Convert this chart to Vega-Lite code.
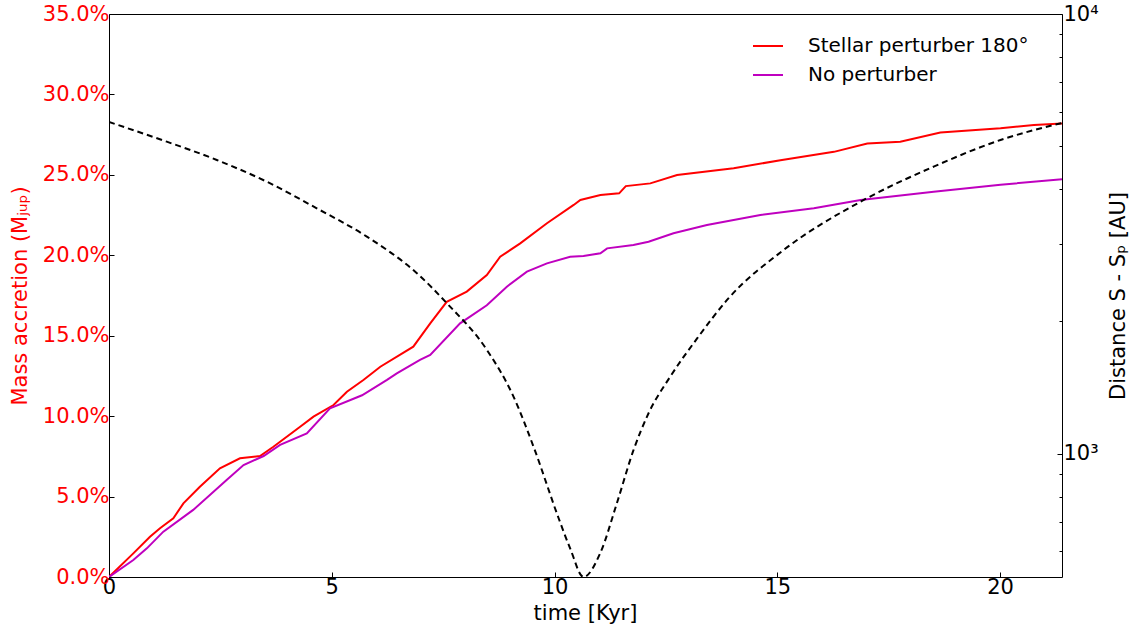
{
  "$schema": "https://vega.github.io/schema/vega-lite/v6.json",
  "width": 953,
  "height": 563,
  "autosize": {"type": "none"},
  "padding": {"left": 109, "top": 14, "right": 74, "bottom": 57},
  "background": "white",
  "config": {
    "font": "DejaVu Sans",
    "view": {"stroke": "black", "strokeWidth": 1},
    "axis": {"grid": false, "domain": false, "tickColor": "black", "labelFont": "DejaVu Sans", "titleFont": "DejaVu Sans", "labelFontSize": 21, "titleFontSize": 21, "titleFontWeight": "normal", "labelOverlap": false}
  },
  "datasets": {
    "acc": [
      {"t": 0, "pct": 0, "series": "Stellar perturber 180°"},
      {"t": 0.546, "pct": 1.47, "series": "Stellar perturber 180°"},
      {"t": 0.92, "pct": 2.5, "series": "Stellar perturber 180°"},
      {"t": 1.145, "pct": 3.03, "series": "Stellar perturber 180°"},
      {"t": 1.444, "pct": 3.65, "series": "Stellar perturber 180°"},
      {"t": 1.67, "pct": 4.58, "series": "Stellar perturber 180°"},
      {"t": 2.04, "pct": 5.61, "series": "Stellar perturber 180°"},
      {"t": 2.49, "pct": 6.76, "series": "Stellar perturber 180°"},
      {"t": 2.94, "pct": 7.38, "series": "Stellar perturber 180°"},
      {"t": 3.39, "pct": 7.52, "series": "Stellar perturber 180°"},
      {"t": 3.69, "pct": 8.1, "series": "Stellar perturber 180°"},
      {"t": 3.84, "pct": 8.41, "series": "Stellar perturber 180°"},
      {"t": 4.29, "pct": 9.34, "series": "Stellar perturber 180°"},
      {"t": 4.59, "pct": 9.97, "series": "Stellar perturber 180°"},
      {"t": 5.04, "pct": 10.69, "series": "Stellar perturber 180°"},
      {"t": 5.34, "pct": 11.52, "series": "Stellar perturber 180°"},
      {"t": 5.71, "pct": 12.25, "series": "Stellar perturber 180°"},
      {"t": 6.09, "pct": 13.07, "series": "Stellar perturber 180°"},
      {"t": 6.83, "pct": 14.32, "series": "Stellar perturber 180°"},
      {"t": 7.21, "pct": 15.77, "series": "Stellar perturber 180°"},
      {"t": 7.58, "pct": 17.11, "series": "Stellar perturber 180°"},
      {"t": 8.03, "pct": 17.74, "series": "Stellar perturber 180°"},
      {"t": 8.48, "pct": 18.77, "series": "Stellar perturber 180°"},
      {"t": 8.78, "pct": 19.91, "series": "Stellar perturber 180°"},
      {"t": 9.23, "pct": 20.74, "series": "Stellar perturber 180°"},
      {"t": 9.83, "pct": 21.99, "series": "Stellar perturber 180°"},
      {"t": 10.43, "pct": 23.13, "series": "Stellar perturber 180°"},
      {"t": 10.58, "pct": 23.44, "series": "Stellar perturber 180°"},
      {"t": 11.03, "pct": 23.75, "series": "Stellar perturber 180°"},
      {"t": 11.45, "pct": 23.85, "series": "Stellar perturber 180°"},
      {"t": 11.6, "pct": 24.3, "series": "Stellar perturber 180°"},
      {"t": 12.15, "pct": 24.47, "series": "Stellar perturber 180°"},
      {"t": 12.75, "pct": 24.99, "series": "Stellar perturber 180°"},
      {"t": 14.02, "pct": 25.41, "series": "Stellar perturber 180°"},
      {"t": 15.07, "pct": 25.91, "series": "Stellar perturber 180°"},
      {"t": 16.27, "pct": 26.43, "series": "Stellar perturber 180°"},
      {"t": 17.02, "pct": 26.95, "series": "Stellar perturber 180°"},
      {"t": 17.76, "pct": 27.06, "series": "Stellar perturber 180°"},
      {"t": 18.66, "pct": 27.63, "series": "Stellar perturber 180°"},
      {"t": 20.01, "pct": 27.89, "series": "Stellar perturber 180°"},
      {"t": 20.76, "pct": 28.1, "series": "Stellar perturber 180°"},
      {"t": 21.39, "pct": 28.2, "series": "Stellar perturber 180°"},
      {"t": 0, "pct": 0, "series": "No perturber"},
      {"t": 0.546, "pct": 1.06, "series": "No perturber"},
      {"t": 0.85, "pct": 1.78, "series": "No perturber"},
      {"t": 1.22, "pct": 2.82, "series": "No perturber"},
      {"t": 1.89, "pct": 4.17, "series": "No perturber"},
      {"t": 2.64, "pct": 6.03, "series": "No perturber"},
      {"t": 3.02, "pct": 6.96, "series": "No perturber"},
      {"t": 3.47, "pct": 7.52, "series": "No perturber"},
      {"t": 3.84, "pct": 8.21, "series": "No perturber"},
      {"t": 4.44, "pct": 8.93, "series": "No perturber"},
      {"t": 4.96, "pct": 10.49, "series": "No perturber"},
      {"t": 5.68, "pct": 11.3, "series": "No perturber"},
      {"t": 6.24, "pct": 12.25, "series": "No perturber"},
      {"t": 6.46, "pct": 12.66, "series": "No perturber"},
      {"t": 6.98, "pct": 13.5, "series": "No perturber"},
      {"t": 7.21, "pct": 13.8, "series": "No perturber"},
      {"t": 7.88, "pct": 15.77, "series": "No perturber"},
      {"t": 8.48, "pct": 16.89, "series": "No perturber"},
      {"t": 8.93, "pct": 18.05, "series": "No perturber"},
      {"t": 9.38, "pct": 18.98, "series": "No perturber"},
      {"t": 9.83, "pct": 19.5, "series": "No perturber"},
      {"t": 10.35, "pct": 19.91, "series": "No perturber"},
      {"t": 10.65, "pct": 19.95, "series": "No perturber"},
      {"t": 11.03, "pct": 20.12, "series": "No perturber"},
      {"t": 11.18, "pct": 20.43, "series": "No perturber"},
      {"t": 11.77, "pct": 20.64, "series": "No perturber"},
      {"t": 12.11, "pct": 20.84, "series": "No perturber"},
      {"t": 12.67, "pct": 21.37, "series": "No perturber"},
      {"t": 13.42, "pct": 21.88, "series": "No perturber"},
      {"t": 14.62, "pct": 22.5, "series": "No perturber"},
      {"t": 15.82, "pct": 22.92, "series": "No perturber"},
      {"t": 16.87, "pct": 23.44, "series": "No perturber"},
      {"t": 18.51, "pct": 23.95, "series": "No perturber"},
      {"t": 20.01, "pct": 24.39, "series": "No perturber"},
      {"t": 21.39, "pct": 24.72, "series": "No perturber"}
    ],
    "dist": [
      {"t": 0, "d": 5682},
      {"t": 1.296, "d": 5126},
      {"t": 2.419, "d": 4658},
      {"t": 3.541, "d": 4157},
      {"t": 4.664, "d": 3616},
      {"t": 5.787, "d": 3118},
      {"t": 6.91, "d": 2575},
      {"t": 7.584, "d": 2200},
      {"t": 8.482, "d": 1723},
      {"t": 9.079, "d": 1350},
      {"t": 9.528, "d": 1039},
      {"t": 10.09, "d": 715},
      {"t": 10.35, "d": 610},
      {"t": 10.65, "d": 525},
      {"t": 11.026, "d": 595},
      {"t": 11.4, "d": 773},
      {"t": 11.774, "d": 1021},
      {"t": 12.11, "d": 1237},
      {"t": 12.6, "d": 1500},
      {"t": 13.2, "d": 1830},
      {"t": 13.907, "d": 2259},
      {"t": 15.143, "d": 2908},
      {"t": 16.94, "d": 3778},
      {"t": 18.51, "d": 4498},
      {"t": 20.01, "d": 5171},
      {"t": 21.39, "d": 5653}
    ]
  },
  "layer": [
    {
      "data": {"name": "acc"},
      "mark": {"type": "line", "strokeWidth": 2, "clip": true},
      "encoding": {
        "x": {"field": "t", "type": "quantitative", "scale": {"domain": [0, 21.39], "nice": false},
          "axis": {"values": [0, 5, 10, 15, 20], "title": "time [Kyr]", "titleX": 476, "titleY": 36, "titleBaseline": "middle", "titleAlign": "center", "tickSize": -5, "labelPadding": 4, "labelFlush": false, "labelColor": "black", "titleColor": "black"}},
        "y": {"field": "pct", "type": "quantitative", "scale": {"domain": [0, 35], "nice": false},
          "axis": {"orient": "left", "values": [0, 5, 10, 15, 20, 25, 30, 35], "labelExpr": "format(datum.value, '.1f') + '%'", "labelColor": "#ff0000", "title": "Mass accretion (Mⱼᵤₚ)", "titleColor": "#ff0000", "titleX": -89, "titleY": 281.5, "titleAngle": -90, "titleAlign": "center", "titleBaseline": "middle", "tickSize": -5, "labelPadding": 5}},
        "color": {"field": "series", "type": "nominal", "sort": ["Stellar perturber 180°", "No perturber"],
          "scale": {"domain": ["Stellar perturber 180°", "No perturber"], "range": ["#ff0000", "#bf00bf"]},
          "legend": {"title": null, "orient": "none", "legendX": 643, "legendY": 16, "labelFontSize": 20, "labelFont": "DejaVu Sans", "labelLimit": 0, "symbolType": "stroke", "symbolStrokeWidth": 2, "symbolSize": 900, "labelOffset": 24, "rowPadding": 3, "padding": 0}}
      }
    },
    {
      "data": {"name": "dist"},
      "mark": {"type": "line", "strokeWidth": 2, "strokeDash": [6, 4], "color": "black", "interpolate": "monotone", "clip": true},
      "encoding": {
        "x": {"field": "t", "type": "quantitative"},
        "y": {"field": "d", "type": "quantitative", "scale": {"type": "log", "domain": [525, 10000], "nice": false},
          "axis": {"orient": "right", "values": [600, 700, 800, 900, 1000, 2000, 3000, 4000, 5000, 6000, 7000, 8000, 9000, 10000], "labelExpr": "datum.value == 1000 ? '10³' : (datum.value == 10000 ? '10⁴' : '')", "labelColor": "black", "title": "Distance S - Sₚ [AU]", "titleColor": "black", "titleX": 56, "titleY": 281.5, "titleAngle": -90, "titleAlign": "center", "titleBaseline": "middle", "tickSize": {"condition": {"test": "datum.value == 1000 || datum.value == 10000", "value": -5}, "value": -3}, "labelPadding": 6}}
      }
    }
  ],
  "resolve": {"scale": {"y": "independent"}}
}
